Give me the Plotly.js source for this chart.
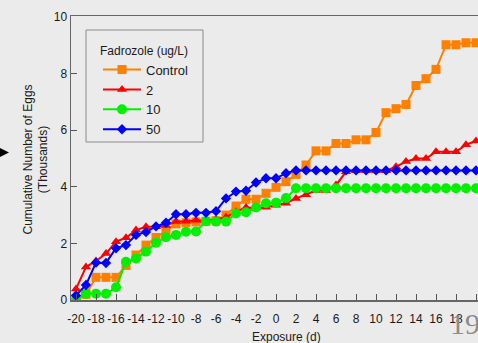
<!DOCTYPE html>
<html>
<head>
<meta charset="utf-8">
<script src="https://cdn.plot.ly/plotly-3.0.1.min.js"></script>
<style>
html,body{margin:0;padding:0;background:#ebebeb;overflow:hidden;}
#chart{width:478px;height:343px;}
</style>
</head>
<body>
<div id="chart"></div>
<script>
// Exposure days
const days = [-20,-19,-18,-17,-16,-15,-14,-13,-12,-11,-10,-9,-8,-7,-6,-5,-4,-3,-2,-1,0,1,2,3,4,5,6,7,8,9,10,11,12,13,14,15,16,17,18,19,20];
// Cumulative number of eggs (thousands)
const control = [0,0.2,0.8,0.8,0.8,1.22,1.59,1.94,2.21,2.45,2.69,2.73,2.76,2.78,2.8,3.0,3.32,3.56,3.56,3.77,3.98,4.18,4.44,4.77,5.27,5.27,5.53,5.53,5.66,5.66,5.92,6.62,6.76,6.91,7.58,7.82,8.15,9.02,9.02,9.09,9.09];
const fad2 = [0.39,1.17,1.38,1.64,2.06,2.2,2.47,2.59,2.59,2.63,2.77,2.78,2.82,2.8,2.85,2.92,3.12,3.27,3.25,3.28,3.35,3.42,3.59,3.72,3.87,3.87,4.06,4.53,4.57,4.57,4.57,4.57,4.71,4.89,5.0,5.0,5.24,5.24,5.24,5.49,5.62];
const fad10 = [0,0.22,0.22,0.22,0.45,1.35,1.47,1.71,2.02,2.22,2.3,2.41,2.42,2.78,2.77,2.77,3.06,3.1,3.27,3.42,3.44,3.6,3.95,3.95,3.95,3.95,3.95,3.95,3.95,3.95,3.95,3.95,3.95,3.95,3.95,3.95,3.95,3.95,3.95,3.95,3.95];
const fad50 = [0.16,0.53,1.32,1.31,1.83,1.94,2.3,2.4,2.6,2.73,3.03,3.03,3.08,3.08,3.14,3.59,3.83,3.86,4.15,4.3,4.3,4.48,4.58,4.58,4.58,4.58,4.58,4.58,4.58,4.58,4.58,4.58,4.58,4.58,4.58,4.58,4.58,4.58,4.58,4.58,4.58];
const seriesNames = ['Control','2','10','50'];
const xTickVals = [-20,-18,-16,-14,-12,-10,-8,-6,-4,-2,0,2,4,6,8,10,12,14,16,18,20];
const xTickText = ['-20','-18','-16','-14','-12','-10','-8','-6','-4','-2','0','2','4','6','8','10','12','14','16','18','20'];
const yTickVals = [0,2,4,6,8,10];

const W = 478, H = 343;
const M = {l:71, r:0, t:16, b:43};
const PW = W - M.l - M.r, PH = H - M.t - M.b;
const px = x => (x - M.l) / PW;
const py = y => (H - M.b - y) / PH;

const font = 'Arial, "Liberation Sans", Helvetica, sans-serif';
const styles = [
  {color:'#ff8000', symbol:'square', size:9},
  {color:'#ff0000', symbol:'triangle-up', size:9},
  {color:'#00f000', symbol:'circle', size:10},
  {color:'#0000ff', symbol:'diamond', size:8}
];
const ys = [control, fad2, fad10, fad50];
const traces = ys.map((y,i) => ({
  x: days, y: y, name: seriesNames[i], type:'scatter', mode:'lines+markers',
  line:{color:styles[i].color, width:2},
  marker:{color:styles[i].color, symbol:styles[i].symbol, size:styles[i].size, line:{width:0}}
}));

const layout = {
  width: W, height: H,
  margin: M,
  paper_bgcolor:'#ebebeb', plot_bgcolor:'#ebebeb',
  font:{family:font, size:12, color:'#1a1a1a'},
  showlegend:true,
  legend:{
    x:px(98), y:py(39), xanchor:'left', yanchor:'top',
    borderwidth:0, bgcolor:'rgba(0,0,0,0)',
    itemwidth:38,
    font:{family:font, size:13, color:'#1a1a1a'},
    title:{text:'Fadrozole (ug/L)', side:'top', font:{family:font, size:12, color:'#1a1a1a'}}
  },
  xaxis:{
    range:[-20.5, 20.2], tickmode:'array', tickvals:xTickVals, ticktext:xTickText,
    ticks:'inside', ticklen:6, tickwidth:1, tickcolor:'#555',
    showline:true, linecolor:'#666', linewidth:1.5, mirror:true,
    showgrid:false, zeroline:false, ticklabelstandoff:7,
    tickfont:{family:font, size:12, color:'#1a1a1a'}
  },
  yaxis:{
    range:[0, PH/28.3], tickmode:'array', tickvals:yTickVals,
    ticks:'inside', ticklen:6, tickwidth:1, tickcolor:'#555',
    showline:true, linecolor:'#666', linewidth:1.5,
    showgrid:false, zeroline:false,
    tickfont:{family:font, size:12, color:'#1a1a1a'}
  },
  annotations:[
    {text:'Cumulative Number of Eggs<br>(Thousands)', xref:'paper', yref:'paper',
     x:px(35.5), y:py(160), xanchor:'center', yanchor:'middle', textangle:-90,
     showarrow:false, font:{family:font, size:12, color:'#1a1a1a'}},
    {text:'Exposure (d)', xref:'paper', yref:'paper',
     x:px(286), y:py(337), xanchor:'center', yanchor:'middle',
     showarrow:false, font:{family:font, size:12, color:'#1a1a1a'}},
    {text:'19', xref:'paper', yref:'paper',
     x:px(448), y:py(323), xanchor:'left', yanchor:'middle',
     showarrow:false, font:{family:'"Liberation Serif", "DejaVu Serif", serif', size:30, color:'#8c8c8c'}}
  ],
  shapes:[
    {type:'rect', xref:'paper', yref:'paper', layer:'above',
     x0:px(86), x1:px(203), y0:py(30), y1:py(142),
     line:{color:'#8a8a8a', width:1}, fillcolor:'rgba(0,0,0,0)'},
    {type:'path', xref:'paper', yref:'paper', layer:'above',
     path:'M '+px(-1)+','+py(147.5)+' L '+px(9)+','+py(152.5)+' L '+px(-1)+','+py(157.5)+' Z',
     fillcolor:'#000', line:{width:0}}
  ]
};

Plotly.newPlot('chart', traces, layout, {displayModeBar:false, staticPlot:true});
</script>
</body>
</html>
